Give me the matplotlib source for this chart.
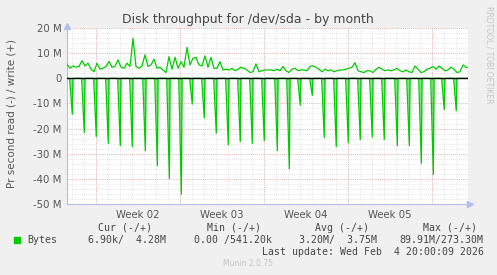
import numpy as np
import matplotlib
matplotlib.use("Agg")
import matplotlib.pyplot as plt

# write (+) in MB/s, one sample every 6 hours
write_vals = [5.6, 4.0, 4.9, 4.4, 4.7, 7.0, 4.9, 6.0, 3.6, 2.6, 6.0, 3.6, 4.0, 4.7, 6.7, 4.4, 4.7,
              7.3, 4.4, 4.0, 6.0, 4.7, 15.9, 4.7, 4.0, 4.9, 9.3, 4.7, 5.3, 7.6, 4.0, 4.4, 3.3, 2.3,
              8.6, 3.6, 8.4, 4.0, 6.6, 4.4, 12.3, 5.3, 8.0, 8.3, 5.3, 4.9, 8.9, 4.4, 8.3, 4.0, 4.0,
              6.6, 3.3, 3.6, 3.3, 4.0, 3.0, 3.6, 4.4, 4.0, 3.3, 2.3, 2.6, 5.7, 2.6, 3.0, 3.3, 3.3,
              3.3, 3.0, 3.6, 3.0, 4.7, 3.0, 2.3, 3.6, 4.0, 3.0, 3.3, 3.3, 3.0, 4.7, 4.9, 4.4, 3.6,
              2.6, 3.6, 3.0, 3.3, 2.6, 3.0, 3.3, 3.3, 3.6, 4.0, 4.4, 6.2, 3.0, 2.6, 2.3, 3.0, 3.0,
              2.3, 3.6, 4.4, 3.6, 3.0, 3.3, 3.0, 3.3, 4.0, 3.0, 2.6, 3.3, 2.6, 2.3, 4.9, 3.6, 2.3,
              2.6, 3.6, 4.0, 4.7, 3.6, 4.9, 4.0, 3.0, 3.3, 4.4, 3.6, 2.3, 2.6, 5.3, 4.4, 4.3]
write_days = np.arange(len(write_vals)) * 0.25

# read (-) spikes: day of spike and depth in MB/s
spike_days = [0.44, 1.44, 2.44, 3.44, 4.44, 5.44, 6.53, 7.53, 8.53, 9.53, 10.44, 11.44, 12.44,
              13.44, 14.44, 15.44, 16.44, 17.53, 18.53, 19.44, 20.44, 21.44, 22.44, 23.44, 24.44,
              25.44, 26.44, 27.53, 28.53, 29.53, 30.53, 31.44, 32.44]
spike_vals = [-14.3, -21.6, -23.2, -25.9, -26.8, -27.2, -28.8, -34.8, -39.9, -46.1, -10.3, -15.8,
              -21.9, -26.5, -25.2, -25.9, -24.8, -28.8, -36.0, -10.7, -6.8, -23.6, -27.2, -25.6,
              -24.4, -23.5, -24.4, -26.8, -26.8, -33.8, -38.3, -12.5, -12.9]

week_bounds = [2.4, 9.4, 16.4, 23.4, 30.4]
week_labels = ["Week 02", "Week 03", "Week 04", "Week 05"]
yticks = [20, 10, 0, -10, -20, -30, -40, -50]
ytick_labels = ["20 M", "10 M", "0", "-10 M", "-20 M", "-30 M", "-40 M", "-50 M"]

GREEN = "#00CC00"
BG = "#F0F0F0"
AXC = "#B4BEEB"

W, H = 497, 275
fig = plt.figure(figsize=(W / 100, H / 100), dpi=100, facecolor=BG)
ax = fig.add_axes([67 / W, 1 - 204 / H, 401 / W, 176 / H])
ax.set_facecolor("white")
ax.set_xlim(0, 33.42)
ax.set_ylim(-50, 20)

# grid
for d in np.arange(0.4, 33.4, 1.0):
    ax.axvline(d, color="#DDDDDD", lw=0.6, ls=(0, (1, 1.5)), zorder=0)
for y in range(-50, 21, 2):
    ax.axhline(y, color="#DDDDDD", lw=0.6, ls=(0, (1, 1.5)), zorder=0)
for d in week_bounds:
    ax.axvline(d, color="#E8A8A8", lw=0.6, ls=(0, (1, 1.5)), zorder=0.5)
for y in yticks:
    ax.axhline(y, color="#E8A8A8", lw=0.6, ls=(0, (1, 1.5)), zorder=0.5)

# read series (negative)
rx, ry = [0.0], [0.0]
for d, v in zip(spike_days, spike_vals):
    rx += [d - 0.22, d, d + 0.06]
    ry += [0.0, v, 0.0]
rx.append(33.5)
ry.append(0.0)
ax.fill_between(rx, ry, 0, color=GREEN, alpha=0.45, lw=0, zorder=2)
ax.plot(rx, ry, color=GREEN, lw=0.9, zorder=3)

# write series
ax.plot(write_days, write_vals, color=GREEN, lw=0.9, zorder=3)
ax.axhline(0, color="black", lw=1.0, zorder=4)

ax.set_yticks(yticks)
ax.set_yticklabels(ytick_labels)
ax.set_xticks([(a + b) / 2 for a, b in zip(week_bounds[:-1], week_bounds[1:])])
ax.set_xticklabels(week_labels)
ax.tick_params(length=0, labelsize=7.3, colors="#555555", pad=4)
for s in ["top", "right"]:
    ax.spines[s].set_visible(False)
ax.spines["left"].set_color(AXC)
ax.spines["bottom"].set_color(AXC)
ax.spines["left"].set_linewidth(0.8)
ax.spines["bottom"].set_linewidth(0.8)
ax.plot([0], [20.8], marker="^", color=AXC, ms=4, clip_on=False, zorder=5)
ax.plot([33.6], [-50], marker=">", color=AXC, ms=4, clip_on=False, zorder=5)

fig.text(248 / W, 1 - 19 / H, "Disk throughput for /dev/sda - by month", ha="center", va="center",
         fontsize=9, color="#444444")
fig.text(12 / W, 1 - 114 / H, "Pr second read (-) / write (+)", rotation=90, ha="center",
         va="center", fontsize=7.5, color="#555555")
fig.text(489 / W, 1 - 6 / H, "RRDTOOL / TOBI OETIKER", rotation=270, ha="center", va="top",
         fontsize=5.5, color="#C4C4C4")

mono = dict(family="DejaVu Sans Mono", fontsize=7.1, color="#444444", va="center")
fig.patches.append(plt.Rectangle((14 / W, 1 - 243 / H), 6 / W, 6 / H, color=GREEN,
                                 transform=fig.transFigure, figure=fig))
fig.text(98 / W, 1 - 228 / H, "Cur (-/+)", **mono)
fig.text(207 / W, 1 - 228 / H, "Min (-/+)", **mono)
fig.text(315 / W, 1 - 228 / H, "Avg (-/+)", **mono)
fig.text(423 / W, 1 - 228 / H, "Max (-/+)", **mono)
fig.text(27 / W, 1 - 240 / H, "Bytes", **mono)
fig.text(88 / W, 1 - 240 / H, "6.90k/  4.28M", **mono)
fig.text(194 / W, 1 - 240 / H, "0.00 /541.20k", **mono)
fig.text(299 / W, 1 - 240 / H, "3.20M/  3.75M", **mono)
fig.text(399 / W, 1 - 240 / H, "89.91M/273.30M", **mono)
fig.text(262 / W, 1 - 252 / H, "Last update: Wed Feb  4 20:00:09 2026", **mono)
fig.text(248 / W, 1 - 264 / H, "Munin 2.0.75", ha="center", va="center", fontsize=5.5,
         color="#C4C4C4")

fig.savefig("out.png", dpi=100, facecolor=BG)
